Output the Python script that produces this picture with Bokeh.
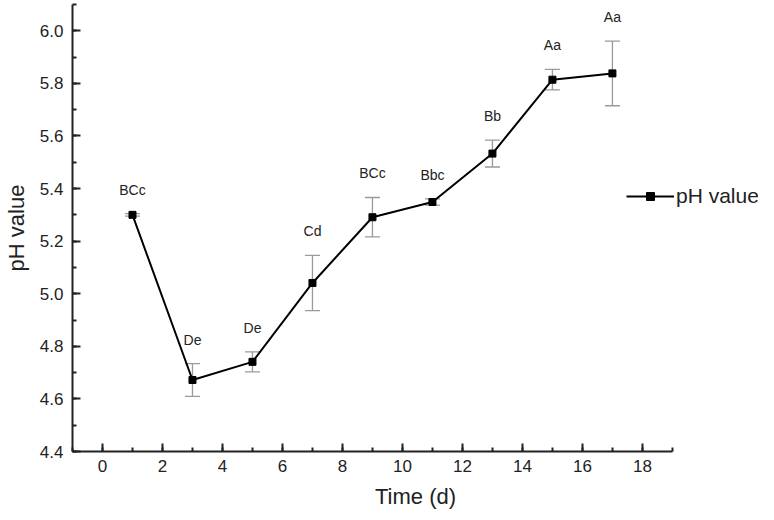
from bokeh.plotting import figure
from bokeh.models import (ColumnDataSource, Whisker, TeeHead, SingleIntervalTicker,
                          PrintfTickFormatter, Legend, LegendItem, Range1d)
from bokeh.core.properties import value
from bokeh.embed import file_html
from bokeh.resources import INLINE

# ---- data ----
days = [1, 3, 5, 7, 9, 11, 13, 15, 17]
ph_mean = [5.300, 4.672, 4.741, 5.041, 5.291, 5.349, 5.533, 5.814, 5.838]
ph_sd = [0.005, 0.062, 0.038, 0.105, 0.075, 0.012, 0.051, 0.039, 0.123]
letters = ["BCc", "De", "De", "Cd", "BCc", "Bbc", "Bb", "Aa", "Aa"]
x_ticks_interval = 2
y_ticks_interval = 0.2

upper = [m + s for m, s in zip(ph_mean, ph_sd)]
lower = [m - s for m, s in zip(ph_mean, ph_sd)]
src = ColumnDataSource(dict(x=days, y=ph_mean, upper=upper, lower=lower, lab=letters))

FONT = "Liberation Sans"

p = figure(width=758, height=512, output_backend="svg", toolbar_location=None,
           x_range=Range1d(-1, 21.87), y_range=Range1d(4.4, 6.1),
           min_border_top=4, min_border_right=0, min_border_left=72, min_border_bottom=61)
p.outline_line_color = None
p.xgrid.visible = False
p.ygrid.visible = False
p.background_fill_color = "white"
p.border_fill_color = "white"

# error bars
wh = Whisker(source=src, base="x", upper="upper", lower="lower",
             line_color="#9a9a9a", line_width=1.3,
             upper_head=TeeHead(size=15, line_color="#9a9a9a", line_width=1.3),
             lower_head=TeeHead(size=15, line_color="#9a9a9a", line_width=1.3))
p.add_layout(wh)

line_r = p.line("x", "y", source=src, line_color="black", line_width=2)
sc_r = p.scatter("x", "y", source=src, marker="square", size=7,
                 fill_color="black", line_color="black")

p.text("x", "upper", text="lab", source=src, text_align="center", text_baseline="middle",
       y_offset=-24, text_font=value(FONT), text_font_size="14px", text_color="#222222")

# axes
for ax in (p.xaxis[0], p.yaxis[0]):
    ax.axis_line_width = 2
    ax.axis_line_color = "#222222"
    ax.major_tick_line_width = 2
    ax.minor_tick_line_width = 2
    ax.major_tick_line_color = "#222222"
    ax.minor_tick_line_color = "#222222"
    ax.major_tick_in = 8
    ax.major_tick_out = 0
    ax.minor_tick_in = 4
    ax.minor_tick_out = 0
    ax.major_label_text_font = FONT
    ax.major_label_text_font_size = "17px"
    ax.major_label_text_color = "#222222"
    ax.axis_label_text_font = FONT
    ax.axis_label_text_font_size = "22px"
    ax.axis_label_text_font_style = "normal"
    ax.axis_label_text_color = "#222222"

p.xaxis.ticker = SingleIntervalTicker(interval=x_ticks_interval, num_minor_ticks=2)
p.yaxis.ticker = SingleIntervalTicker(interval=y_ticks_interval, num_minor_ticks=2)
p.yaxis.formatter = PrintfTickFormatter(format="%.1f")
p.xaxis.bounds = (-1, 19)
p.yaxis.bounds = (4.4, 6.1)
p.xaxis.axis_label = "Time (d)"
p.yaxis.axis_label = "pH value"
p.xaxis.major_label_standoff = 8
p.xaxis.axis_label_standoff = 9
p.yaxis.major_label_standoff = 9
p.yaxis.axis_label_standoff = 8

legend = Legend(items=[LegendItem(label="pH value", renderers=[line_r, sc_r])],
                location=(554, 243), orientation="vertical",
                glyph_width=48, glyph_height=20, label_standoff=2,
                padding=0, margin=0, spacing=0,
                border_line_color=None, background_fill_alpha=0,
                label_text_font=FONT, label_text_font_size="21px",
                label_text_color="#222222")
p.add_layout(legend)

open("out.html", "w").write(file_html(p, INLINE))
